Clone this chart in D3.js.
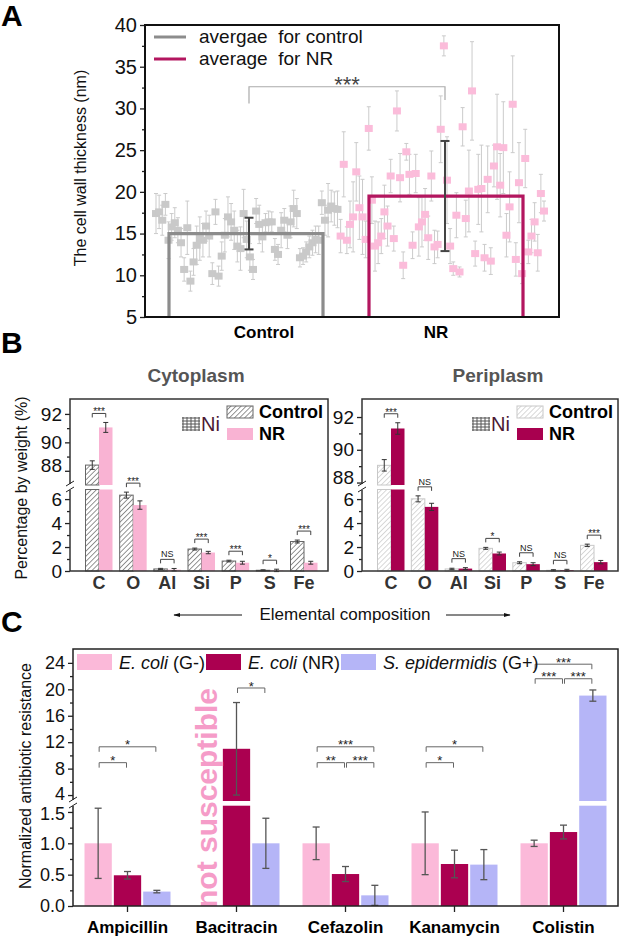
<!DOCTYPE html>
<html>
<head>
<meta charset="utf-8">
<title>Cell wall thickness, elemental composition, antibiotic resistance</title>
<script src="https://d3js.org/d3.v7.min.js"></script>
<style>
  body { margin: 0; background: #fff; }
</style>
</head>
<body>
<div id="chart"></div>
<script>
// ---------- A: cell wall thickness per cell (nm) ----------
var groupsA = ["Control", "NR"];
var ctrlThick = [17.4,17.6,16.6,18.5,14.2,15.8,16.3,15.4,13.9,10.7,15.7,9.3,11.6,13.6,14.4,14.2,15.9,14.7,10.2,17.6,
  9.9,12.3,14.8,17.0,16.4,15.4,13.5,13.2,17.4,14.3,12.2,10.7,17.7,16.1,14.6,16.3,16.4,16.4,13.1,12.5,
  15.4,16.6,14.8,16.4,18.0,17.4,12.1,12.3,12.8,13.4,13.9,14.3,14.2,18.7,16.6,17.8,18.3,18.0,17.9];
var ctrlErr = [2.4,2.0,1.8,1.3,2.2,1.6,1.8,1.5,1.7,1.4,3.2,1.2,1.6,2.3,2.6,2.0,1.8,2.5,1.3,1.5,
  1.2,1.7,2.0,2.4,2.2,2.3,1.9,2.6,2.9,2.2,1.6,1.2,1.5,2.3,1.8,1.1,1.3,1.2,1.3,1.2,
  2.1,1.4,1.6,1.9,2.2,1.8,1.1,1.0,1.2,1.3,1.5,1.6,1.7,1.4,1.8,3.2,1.9,2.0,2.2];
var nrThick = [14.7,23.3,14.2,16.1,17.0,22.4,18.1,17.0,14.3,27.6,19.0,13.5,13.9,14.7,17.6,15.9,21.9,14.4,29.7,21.7,
  11.2,24.8,22.1,13.6,22.2,15.8,16.4,17.3,14.5,21.9,13.4,13.7,27.5,37.5,21.4,13.5,10.8,17.2,10.4,27.8,
  16.8,20.1,32.1,12.6,20.3,20.4,12.1,21.5,11.7,23.1,25.4,20.8,25.3,14.8,18.2,30.5,11.9,21.1,10.2,24.0,
  12.8,14.7,16.4,12.7,19.8,17.7];
var nrErr = [2.0,3.9,1.6,2.8,4.2,3.5,3.8,4.5,2.2,2.6,2.8,3.0,2.5,2.1,3.2,2.4,2.0,1.5,2.4,2.9,
  1.6,1.0,2.4,1.6,2.3,3.5,3.0,3.1,2.6,3.0,2.0,1.6,4.0,1.2,5.2,2.1,0.8,2.7,0.6,2.3,
  2.2,4.9,5.9,1.5,4.2,5.2,1.6,4.0,1.6,2.5,6.3,3.8,5.5,2.6,4.2,5.8,2.0,4.8,1.2,3.5,
  1.4,2.0,2.3,2.2,2.3,1.2];
var meanA = [15.0, 19.5];
var sdA = [1.9, 6.6];

// ---------- B: elemental composition (% by weight) ----------
var elements = ["C", "O", "Al", "Si", "P", "S", "Fe"];
var cytoCtrl = [88.4, 6.33, 0.17, 1.83, 0.83, 0.06, 2.46];
var cytoCtrlErr = [0.3, 0.25, 0.05, 0.08, 0.07, 0.04, 0.12];
var cytoNR = [91.05, 5.5, 0.11, 1.54, 0.69, 0.05, 0.69];
var cytoNRErr = [0.35, 0.35, 0.1, 0.1, 0.12, 0.1, 0.12];
var cytoSig = ["***", "***", "NS", "***", "***", "*", "***"];
var periCtrl = [89.05, 6.02, 0.17, 1.89, 0.69, 0.06, 2.14];
var periCtrlErr = [0.35, 0.25, 0.06, 0.08, 0.08, 0.05, 0.1];
var periNR = [91.3, 5.35, 0.2, 1.46, 0.57, 0.06, 0.74];
var periNRErr = [0.35, 0.3, 0.08, 0.12, 0.12, 0.08, 0.14];
var periSig = ["***", "NS", "NS", "*", "NS", "NS", "***"];

// ---------- C: normalized antibiotic resistance ----------
var drugs = ["Ampicillin", "Bacitracin", "Cefazolin", "Kanamycin", "Colistin"];
var strains = ["E. coli (G-)", "E. coli (NR)", "S. epidermidis (G+)"];
var ecoliG = [1.0, null, 1.0, 1.0, 1.0];
var ecoliGErr = [0.56, null, 0.26, 0.5, 0.05];
var ecoliNR = [0.49, 11.0, 0.51, 0.67, 1.18];
var ecoliNRErr = [0.06, 7.0, 0.12, 0.22, 0.11];
var sEpi = [0.23, 1.0, 0.17, 0.66, 19.05];
var sEpiErr = [0.02, 0.4, 0.16, 0.24, 0.85];
// significance: drug index, strain a, strain b, label, bracket height (upper-axis units)
var sigDrug = [0, 0, 1, 2, 2, 2, 3, 3, 4, 4, 4];
var sigA    = [0, 0, 1, 0, 1, 0, 0, 0, 0, 1, 0];
var sigB    = [1, 2, 2, 1, 2, 2, 1, 2, 1, 2, 2];
var sigTxt  = ["*", "*", "*", "**", "***", "***", "*", "*", "***", "***", "***"];
var sigAt   = [8.9, 11.3, 20.2, 8.9, 8.9, 11.3, 8.9, 11.3, 21.6, 21.6, 23.8];

var FONT = "'Liberation Sans', Arial, Helvetica, sans-serif";
var svg = d3.select("#chart").append("svg")
  .attr("width", 620).attr("height", 937)
  .attr("font-family", FONT);

var defs = svg.append("defs");
function hatch(id, col) {
  var p = defs.append("pattern").attr("id", id)
    .attr("patternUnits", "userSpaceOnUse")
    .attr("width", 3.6).attr("height", 3.6)
    .attr("patternTransform", "rotate(45)");
  p.append("rect").attr("width", 3.6).attr("height", 3.6).attr("fill", "#fff");
  p.append("line").attr("x1", 0).attr("y1", 0).attr("x2", 0).attr("y2", 3.6)
    .attr("stroke", col).attr("stroke-width", 1.3);
}
hatch("hatchDark", "#5a5a5a");
hatch("hatchLight", "#c4c4c4");

function styleAxis(g, fs) {
  g.attr("font-family", FONT).attr("font-size", fs);
  g.select(".domain").remove();
  g.selectAll("text").attr("fill", "#111");
  g.selectAll("line").attr("stroke", "#222").attr("stroke-width", 1.3);
}
function leftTicks(g, x, scale, major, minor, fmt, fs) {
  var a = g.append("g").attr("transform", "translate(" + x + ",0)")
    .call(d3.axisLeft(scale).tickValues(major).tickSize(5).tickPadding(3).tickFormat(fmt));
  styleAxis(a, fs);
  var m = g.append("g").attr("transform", "translate(" + x + ",0)")
    .call(d3.axisLeft(scale).tickValues(minor).tickSize(3).tickFormat(""));
  styleAxis(m, fs);
  return a;
}
function breakMark(g, x, y) {
  g.append("rect").attr("x", x - 3).attr("y", y - 3).attr("width", 6).attr("height", 6).attr("fill", "#fff");
  g.append("line").attr("x1", x - 4).attr("y1", y - 1).attr("x2", x + 4).attr("y2", y - 6).attr("stroke", "#222");
  g.append("line").attr("x1", x - 4).attr("y1", y + 5).attr("x2", x + 4).attr("y2", y).attr("stroke", "#222");
}
function errBar(g, x, y1, y2, cap, col, w) {
  g.append("line").attr("x1", x).attr("x2", x).attr("y1", y1).attr("y2", y2).attr("stroke", col).attr("stroke-width", w);
  g.append("line").attr("x1", x - cap).attr("x2", x + cap).attr("y1", y1).attr("y2", y1).attr("stroke", col).attr("stroke-width", w);
  g.append("line").attr("x1", x - cap).attr("x2", x + cap).attr("y1", y2).attr("y2", y2).attr("stroke", col).attr("stroke-width", w);
}
function bracket(g, xa, xb, y, leg, txt, fs, col) {
  g.append("path").attr("d", "M" + xa + "," + (y + leg) + "V" + y + "H" + xb + "V" + (y + leg))
    .attr("fill", "none").attr("stroke", col).attr("stroke-width", 1);
  var ns = txt === "NS";
  g.append("text").attr("x", (xa + xb) / 2).attr("y", ns ? y - 2 : y + fs * 0.2)
    .attr("text-anchor", "middle").attr("font-size", ns ? fs - 1 : fs).attr("fill", "#222").text(txt);
}

// panel letters
[["A", 26], ["B", 353], ["C", 632]].forEach(function (d) {
  svg.append("text").attr("x", 1).attr("y", d[1]).attr("font-size", 30)
    .attr("font-weight", "bold").text(d[0]);
});

// ================= Panel A =================
(function () {
  var g = svg.append("g");
  var x0 = 145, x1 = 559;
  var yA = d3.scaleLinear().domain([5, 40]).range([317, 25]);
  var pts = ctrlThick.map(function (v, i) { return { v: v, e: ctrlErr[i], nr: false }; })
    .concat(nrThick.map(function (v, i) { return { v: v, e: nrErr[i], nr: true }; }));
  var xA = d3.scaleLinear().domain([0, pts.length - 1]).range([156, 544]);
  var barA = d3.scaleBand().domain(groupsA).range([149, 543]).paddingInner(0.23).paddingOuter(0.1);

  pts.forEach(function (p, i) {
    errBar(g, xA(i), yA(p.v + p.e), yA(p.v - p.e), 2, "#cbcbcb", 1);
  });
  g.selectAll("rect.pt").data(pts).enter().append("rect")
    .attr("x", function (d, i) { return xA(i) - 4; })
    .attr("y", function (d) { return yA(d.v) - 3.5; })
    .attr("width", 8).attr("height", 7)
    .attr("fill", function (d) { return d.nr ? "#fbbcda" : "#c9c9c9"; });

  var barCol = ["#8c8c8c", "#b3165f"];
  groupsA.forEach(function (k, i) {
    g.append("path")
      .attr("d", "M" + barA(k) + "," + yA(5) + "V" + yA(meanA[i]) + "H" + (barA(k) + barA.bandwidth()) + "V" + yA(5))
      .attr("fill", "none").attr("stroke", barCol[i]).attr("stroke-width", 3.2);
  });
  // mean error bars, drawn at the bracket ends
  var mx = [249, 445];
  groupsA.forEach(function (k, i) {
    errBar(g, mx[i], yA(meanA[i] + sdA[i]), yA(meanA[i] - sdA[i]), 4.5, "#444", 2);
  });

  // significance bracket
  g.append("path").attr("d", "M" + mx[0] + "," + yA(30.6) + "V" + yA(32.6) + "H" + mx[1] + "V" + yA(31.0))
    .attr("fill", "none").attr("stroke", "#aaa").attr("stroke-width", 1.2);
  g.append("text").attr("x", (mx[0] + mx[1]) / 2).attr("y", 92).attr("text-anchor", "middle")
    .attr("font-size", 22).attr("fill", "#444").text("***");

  leftTicks(g, x0, yA, d3.range(5, 41, 5), d3.range(7.5, 40, 5), d3.format("d"), 20);
  g.append("rect").attr("x", x0).attr("y", 25).attr("width", x1 - x0).attr("height", 292)
    .attr("fill", "none").attr("stroke", "#111").attr("stroke-width", 2);

  g.append("text").attr("transform", "translate(86,168) rotate(-90)").attr("text-anchor", "middle")
    .attr("font-size", 16).attr("fill", "#111").text("The cell wall thickness (nm)");
  groupsA.forEach(function (k, i) {
    g.append("text").attr("x", barA(k) + barA.bandwidth() / 2 + (i ? -10 : 18)).attr("y", 338)
      .attr("text-anchor", "middle").attr("font-size", 17).attr("font-weight", "bold").text(k);
  });

  // legend
  var leg = [["avergae  for control", "#8c8c8c"], ["average  for NR", "#b3165f"]];
  leg.forEach(function (d, i) {
    var y = 37 + i * 22;
    g.append("line").attr("x1", x0 + 9).attr("x2", x0 + 41).attr("y1", y).attr("y2", y)
      .attr("stroke", d[1]).attr("stroke-width", 3);
    g.append("text").attr("x", x0 + 54).attr("y", y + 6).attr("font-size", 19).attr("fill", "#111")
      .style("white-space", "pre").text(d[0]);
  });
})();

// ================= Panel B =================
function drawB(o) {
  var g = svg.append("g");
  var top = 399, bot = 571;
  var x = d3.scalePoint().domain(elements).range([o.x0 + 29, o.x1 - 24]);
  var bw = 13.5;
  var yUp = d3.scaleLinear().domain(o.upDomain).range([485, top]);
  var yLo = d3.scaleLinear().domain([0, 6.8]).range([bot, 489.5]);
  function y(v) { return v > 50 ? yUp(v) : yLo(v); }

  function bar(cx, v, fill, stroke) {
    if (v > 50) {
      g.append("rect").attr("x", cx).attr("y", yLo(6.8)).attr("width", bw).attr("height", bot - yLo(6.8))
        .attr("fill", fill).attr("stroke", stroke);
      g.append("rect").attr("x", cx).attr("y", yUp(v)).attr("width", bw).attr("height", 485 - yUp(v))
        .attr("fill", fill).attr("stroke", stroke);
    } else {
      g.append("rect").attr("x", cx).attr("y", yLo(v)).attr("width", bw).attr("height", bot - yLo(v))
        .attr("fill", fill).attr("stroke", stroke);
    }
  }
  elements.forEach(function (el, i) {
    var c = x(el);
    bar(c - bw, o.ctrl[i], o.hatch, o.ctrlStroke);
    bar(c, o.nr[i], o.nrCol, "none");
    errBar(g, c - bw / 2, y(o.ctrl[i] + o.ctrlErr[i]), y(o.ctrl[i] - o.ctrlErr[i]), 2.5, "#333", 1);
    errBar(g, c + bw / 2, y(o.nr[i] + o.nrErr[i]), y(o.nr[i] - o.nrErr[i]), 2.5, "#333", 1);
    var yb = Math.min(y(o.ctrl[i] + o.ctrlErr[i]), y(o.nr[i] + o.nrErr[i])) - 9;
    bracket(g, c - bw / 2, c + bw / 2, yb, 4, o.sig[i], 10, "#444");
  });

  var up = leftTicks(g, o.x0, yUp, [88, 90, 92], [89, 91], d3.format("d"), 19);
  // the lowest upper label sits just above the break, clear of the "6" below it
  up.selectAll("text").filter(function (d) { return d === 88; }).attr("dy", "0.05em");
  leftTicks(g, o.x0, yLo, [0, 2, 4, 6], [1, 3, 5], d3.format("d"), 19);
  g.append("rect").attr("x", o.x0).attr("y", top).attr("width", o.x1 - o.x0).attr("height", bot - top)
    .attr("fill", "none").attr("stroke", "#333").attr("stroke-width", 1.5);
  breakMark(g, o.x0, 487);

  g.selectAll("text.xl").data(elements).enter().append("text")
    .attr("x", function (d) { return x(d); }).attr("y", 589).attr("text-anchor", "middle")
    .attr("font-size", 18).attr("font-weight", "bold").attr("fill", "#333").text(function (d) { return d; });

  g.append("text").attr("x", (o.x0 + o.x1) / 2 + o.titleDx).attr("y", 382).attr("text-anchor", "middle")
    .attr("font-size", 19).attr("font-weight", "bold").attr("fill", "#555").text(o.title);

  // legend: Ni grid icon + Control + NR
  var gx = o.x1 - 145, gy = 417;
  for (var k = 0; k < 5; k++) {
    g.append("line").attr("x1", gx + k * 4).attr("x2", gx + k * 4).attr("y1", gy).attr("y2", gy + 14).attr("stroke", "#555");
    g.append("line").attr("x1", gx - 1).attr("x2", gx + 17).attr("y1", gy + 1 + k * 3).attr("y2", gy + 1 + k * 3).attr("stroke", "#555");
  }
  g.append("text").attr("x", gx + 18).attr("y", gy + 14).attr("font-size", 20).attr("fill", "#4d1a34").text("Ni");
  g.append("rect").attr("x", o.x1 - 101).attr("y", 406).attr("width", 26).attr("height", 12)
    .attr("fill", o.hatch).attr("stroke", o.ctrlStroke);
  g.append("text").attr("x", o.x1 - 69).attr("y", 418).attr("font-size", 18).attr("font-weight", "bold").text("Control");
  g.append("rect").attr("x", o.x1 - 101).attr("y", 428).attr("width", 26).attr("height", 12).attr("fill", o.nrCol);
  g.append("text").attr("x", o.x1 - 69).attr("y", 440).attr("font-size", 18).attr("font-weight", "bold").text("NR");
}

drawB({ x0: 70, x1: 328, upDomain: [87.0, 93.05], title: "Cytoplasm", titleDx: -3,
  ctrl: cytoCtrl, ctrlErr: cytoCtrlErr, nr: cytoNR, nrErr: cytoNRErr, sig: cytoSig,
  hatch: "url(#hatchDark)", ctrlStroke: "#666", nrCol: "#f9b3d3" });
drawB({ x0: 362, x1: 618, upDomain: [87.85, 93.1], title: "Periplasm", titleDx: 8,
  ctrl: periCtrl, ctrlErr: periCtrlErr, nr: periNR, nrErr: periNRErr, sig: periSig,
  hatch: "url(#hatchLight)", ctrlStroke: "#c8c8c8", nrCol: "#a8004f" });

svg.append("text").attr("transform", "translate(27,488) rotate(-90)").attr("text-anchor", "middle")
  .attr("font-size", 16).attr("fill", "#111").text("Percentage by weight (%)");

// shared x title with arrows
(function () {
  var mk = defs.append("marker").attr("id", "arr").attr("viewBox", "0 0 10 10").attr("refX", 9).attr("refY", 5)
    .attr("markerWidth", 7).attr("markerHeight", 7).attr("orient", "auto-start-reverse");
  mk.append("path").attr("d", "M0,2L10,5L0,8Z").attr("fill", "#111");
  svg.append("line").attr("x1", 242).attr("x2", 174).attr("y1", 615).attr("y2", 615)
    .attr("stroke", "#111").attr("marker-end", "url(#arr)");
  svg.append("line").attr("x1", 446).attr("x2", 510).attr("y1", 615).attr("y2", 615)
    .attr("stroke", "#111").attr("marker-end", "url(#arr)");
  svg.append("text").attr("x", 345).attr("y", 620).attr("text-anchor", "middle").attr("font-size", 17)
    .attr("fill", "#111").text("Elemental composition");
})();

// ================= Panel C =================
(function () {
  var g = svg.append("g");
  var x0 = 73, x1 = 618, top = 649, bot = 906;
  var x = d3.scaleBand().domain(drugs).range([x0, x1]);
  var sub = d3.scaleBand().domain([0, 1, 2]).range([-43, 43]).paddingInner(0.07);
  var yLo = d3.scaleLinear().domain([0, 1.6]).range([bot, 805.7]);
  var yUp = d3.scaleLinear().domain([3.1, 26.1]).range([801, top]);
  function y(v) { return v > 1.6 ? yUp(v) : yLo(v); }
  var cols = ["#fbb9d9", "#ab0050", "#b5b5f7"];
  var vals = [ecoliG, ecoliNR, sEpi], errs = [ecoliGErr, ecoliNRErr, sEpiErr];

  drugs.forEach(function (dr, i) {
    var cx = x(dr) + x.bandwidth() / 2;
    vals.forEach(function (arr, s) {
      var v = arr[i];
      if (v == null) return;
      var bx = cx + sub(s), w = sub.bandwidth();
      if (v > 1.6) {
        g.append("rect").attr("x", bx).attr("y", yLo(1.6)).attr("width", w).attr("height", bot - yLo(1.6)).attr("fill", cols[s]);
        g.append("rect").attr("x", bx).attr("y", yUp(v)).attr("width", w).attr("height", 801 - yUp(v)).attr("fill", cols[s]);
      } else {
        g.append("rect").attr("x", bx).attr("y", yLo(v)).attr("width", w).attr("height", bot - yLo(v)).attr("fill", cols[s]);
      }
    });
    vals.forEach(function (arr, s) {
      var v = arr[i];
      if (v == null) return;
      var e = errs[s][i];
      errBar(g, cx + sub(s) + sub.bandwidth() / 2, y(v + e), y(Math.max(0, v - e)), 3.5, "#555", 1.3);
    });
  });

  sigDrug.forEach(function (di, k) {
    var cx = x(drugs[di]) + x.bandwidth() / 2, h = sub.bandwidth() / 2;
    bracket(g, cx + sub(sigA[k]) + h + 1, cx + sub(sigB[k]) + h - 1, yUp(sigAt[k]), 5, sigTxt[k], 13, "#666");
  });

  // not susceptible label over the missing bar
  var nsx = x("Bacitracin") + x.bandwidth() / 2 + sub(0) + sub.bandwidth() / 2;
  g.append("text").attr("transform", "translate(" + (nsx - 1) + ",798) rotate(-90)")
    .attr("text-anchor", "middle").attr("dominant-baseline", "central")
    .attr("font-size", 30).attr("font-weight", "bold").attr("fill", "#f59cc8").text("not susceptible");

  var up = leftTicks(g, x0, yUp, [4, 8, 12, 16, 20, 24], [6, 10, 14, 18, 22], d3.format("d"), 18);
  up.selectAll("text").filter(function (d) { return d === 4; }).attr("dy", "0.22em");
  var lo = leftTicks(g, x0, yLo, [0, 0.5, 1.0, 1.5], [0.25, 0.75, 1.25], d3.format(".1f"), 18);
  lo.selectAll("text").filter(function (d) { return d === 1.5; }).attr("dy", "0.42em");
  var xa = g.append("g").attr("transform", "translate(0," + bot + ")")
    .call(d3.axisBottom(x).tickSize(6).tickFormat(""));
  styleAxis(xa, 17);
  g.append("rect").attr("x", x0).attr("y", top).attr("width", x1 - x0).attr("height", bot - top)
    .attr("fill", "none").attr("stroke", "#222").attr("stroke-width", 1.5);
  breakMark(g, x0, 803);

  g.selectAll("text.dl").data(drugs).enter().append("text")
    .attr("x", function (d) { return x(d) + x.bandwidth() / 2; }).attr("y", 933)
    .attr("text-anchor", "middle").attr("font-size", 17).attr("font-weight", "bold").text(function (d) { return d; });

  g.append("text").attr("transform", "translate(31,776) rotate(-90)").attr("text-anchor", "middle")
    .attr("font-size", 16).attr("fill", "#111").text("Normalized antibiotic resistance");

  // legend
  var lx = [77, 206, 341];
  strains.forEach(function (s, i) {
    g.append("rect").attr("x", lx[i]).attr("y", 654).attr("width", 35).attr("height", 16).attr("fill", cols[i]);
    var parts = s.split(" (");
    var t = g.append("text").attr("x", lx[i] + 42).attr("y", 669).attr("font-size", 18).attr("fill", "#111");
    t.append("tspan").attr("font-style", "italic").text(parts[0]);
    t.append("tspan").text(" (" + parts[1]);
  });
})();
</script>
</body>
</html>
